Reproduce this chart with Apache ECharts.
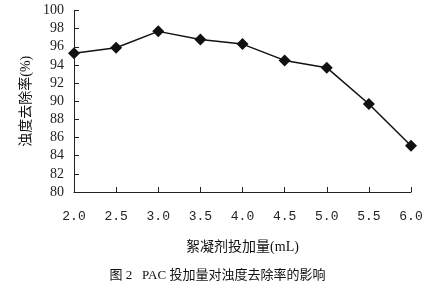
<!DOCTYPE html>
<html><head><meta charset="utf-8">
<script src="https://cdn.jsdelivr.net/npm/echarts@6/dist/echarts.min.js"></script>
<style>html,body{margin:0;padding:0;background:#fff}#c{width:435px;height:282px}</style>
</head><body><div id="c"></div>
<script>
const doses = [2.0, 2.5, 3.0, 3.5, 4.0, 4.5, 5.0, 5.5, 6.0];
const removal = [95.3, 95.9, 97.7, 96.8, 96.3, 94.5, 93.7, 89.7, 85.1];
const xName = '絮凝剂投加量(mL)';
const yName = '浊度去除率(%)';
const caption = '图 2   PAC 投加量对浊度去除率的影响';

const chart = echarts.init(document.getElementById('c'));
const serif = '"Liberation Serif","Noto Sans CJK SC",serif';
chart.setOption({
  animation: false,
  title: {
    text: caption, left: 'center', top: 264,
    textStyle: {fontFamily: serif, fontSize: 13, fontWeight: 'normal', color: '#111'}
  },
  grid: {left: 74, right: 24, top: 10.5, bottom: 90},
  xAxis: {
    type: 'value', min: 2, max: 6, interval: 0.5,
    name: xName, nameLocation: 'middle', nameGap: 48,
    nameTextStyle: {fontFamily: serif, fontSize: 14, color: '#111'},
    axisLine: {lineStyle: {color: '#222', width: 1}},
    axisTick: {inside: true, length: 5, lineStyle: {color: '#222'}},
    axisLabel: {formatter: v => v.toFixed(1), margin: 18, fontFamily: '"Liberation Mono",monospace', fontSize: 13, color: '#222'},
    splitLine: {show: false}
  },
  yAxis: {
    type: 'value', min: 80, max: 100, interval: 2,
    name: yName, nameLocation: 'middle', nameGap: 40, nameMoveOverlap: false,
    nameTextStyle: {fontFamily: serif, fontSize: 14, color: '#111', lineHeight: 16},
    axisLine: {show: true, lineStyle: {color: '#222', width: 1}},
    axisTick: {show: true, inside: true, length: 5, lineStyle: {color: '#222'}},
    axisLabel: {margin: 10, fontFamily: serif, fontSize: 14, color: '#222'},
    splitLine: {show: false}
  },
  series: [{
    type: 'line',
    data: doses.map((d, i) => [d, removal[i]]),
    symbol: 'diamond', symbolSize: 12,
    itemStyle: {color: '#111'},
    lineStyle: {color: '#111', width: 1.5}
  }]
});
</script></body></html>
